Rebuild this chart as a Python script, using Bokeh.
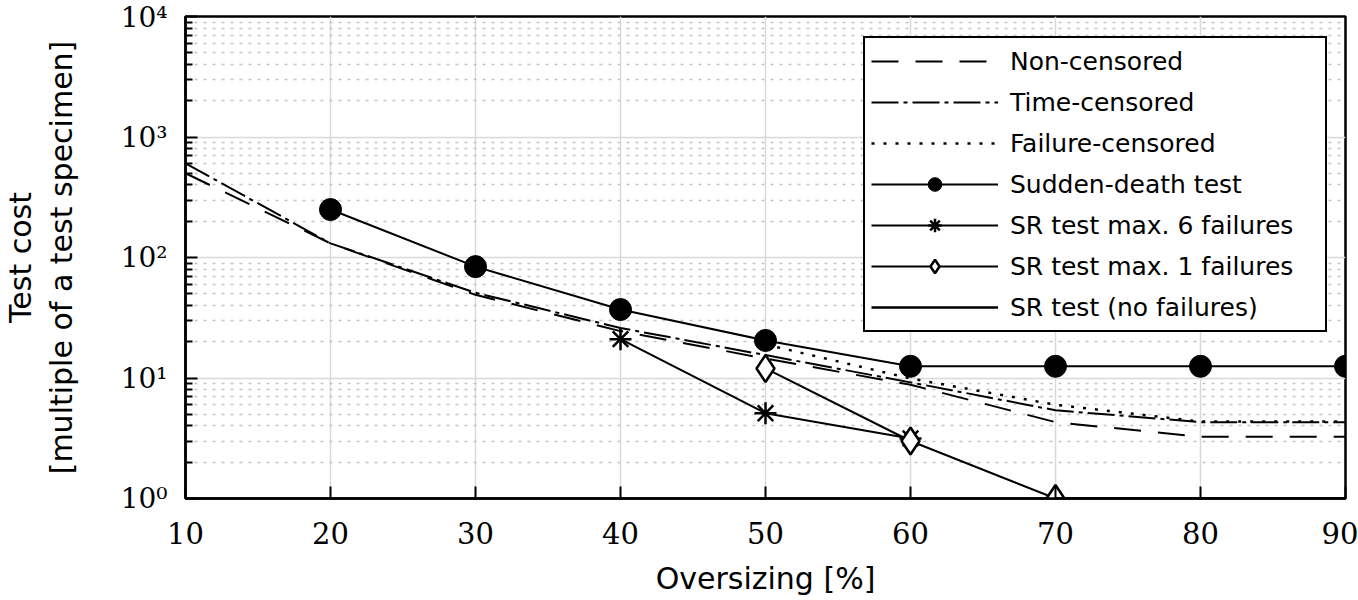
from bokeh.plotting import figure
from bokeh.models import Range1d, FixedTicker, Legend, LegendItem
from bokeh.embed import file_html
from bokeh.resources import INLINE

# ---- data ----
oversizing = [10, 20, 30, 40, 50, 60, 70, 80, 90]
non_censored = [500, 131, 49, 24.5, 14.5, 8.8, 4.3, 3.25, 3.25]
time_censored = [605, 131, 51, 26, 15.5, 9.2, 5.4, 4.3, 4.3]
failure_x = [50, 60, 70, 80, 90]
failure_censored = [19, 9.9, 6.0, 4.35, 4.35]
sudden_x = [20, 30, 40, 50, 60, 70, 80, 90]
sudden_death = [250, 84, 37, 20.5, 12.5, 12.5, 12.5, 12.5]
sr6_x = [40, 50, 60]
sr6 = [21, 5.1, 3.15]
sr1_x = [50, 60, 70]
sr1 = [12, 3.0, 1.0]
sr0_x = [70, 80, 90]
sr0 = [1.0, 1.0, 1.0]

x_ticks = [10, 20, 30, 40, 50, 60, 70, 80, 90]
y_ticks = [1, 10, 100, 1000, 10000]
y_tick_labels = ["10⁰", "10¹", "10²", "10³", "10⁴"]
y_minor = [2, 3, 4, 5, 6, 7, 8, 9,
           20, 30, 40, 50, 60, 70, 80, 90,
           200, 300, 400, 500, 600, 700, 800, 900,
           2000, 3000, 4000, 5000, 6000, 7000, 8000, 9000]

SANS = "DejaVu Sans"
SERIF = "DejaVu Serif"

p = figure(width=1358, height=600, x_range=Range1d(10, 90), y_range=Range1d(1, 10000),
           y_axis_type="log", output_backend="svg", toolbar_location=None,
           min_border_left=185, min_border_right=13, min_border_top=16, min_border_bottom=102)

p.background_fill_color = "white"
p.outline_line_color = "black"
p.outline_line_width = 2.5
p.outline_line_alpha = 1

# axes
p.xaxis.ticker = FixedTicker(ticks=x_ticks)
p.yaxis.ticker = FixedTicker(ticks=y_ticks, minor_ticks=y_minor)
p.yaxis.major_label_overrides = {t: l for t, l in zip(y_ticks, y_tick_labels)}

for ax in (p.xaxis, p.yaxis):
    ax.axis_line_color = "black"
    ax.axis_line_width = 2.5
    ax.major_tick_in = 12
    ax.major_tick_out = 0
    ax.major_tick_line_width = 2
    ax.major_tick_line_color = "black"
    ax.major_label_text_font = SERIF
    ax.major_label_text_color = "black"
    ax.axis_label_text_font = SANS
    ax.axis_label_text_font_size = "30px"
    ax.axis_label_text_font_style = "normal"
    ax.axis_label_text_color = "black"

p.xaxis.major_label_text_font_size = "29px"
p.yaxis.major_label_text_font_size = "28px"
p.xaxis.minor_tick_line_color = None
p.yaxis.minor_tick_in = 7
p.yaxis.minor_tick_out = 0
p.yaxis.minor_tick_line_width = 2
p.yaxis.minor_tick_line_color = "black"

p.xaxis.axis_label = "Oversizing [%]"
p.yaxis.axis_label = "Test cost\n[multiple of a test specimen]"
p.yaxis.axis_label_text_line_height = 1.15
p.xaxis.major_label_standoff = 23
p.xaxis.axis_label_standoff = 14
p.yaxis.major_label_standoff = 18
p.yaxis.axis_label_standoff = 39

# grids
p.xgrid.grid_line_color = "#d9d9d9"
p.xgrid.grid_line_width = 1.5
p.ygrid.grid_line_color = "#d9d9d9"
p.ygrid.grid_line_width = 1.5
p.ygrid.minor_grid_line_color = "#c4c4c4"
p.ygrid.minor_grid_line_width = 1.5
p.ygrid.minor_grid_line_dash = "3 6"

# series
r_nc = p.line(oversizing, non_censored, line_color="black", line_width=2, line_dash="27 17")
r_tc = p.line(oversizing, time_censored, line_color="black", line_width=2, line_dash="27 5 4 5")
r_fc = p.line(failure_x, failure_censored, line_color="black", line_width=2.5, line_dash="3 9")

r_sd_l = p.line(sudden_x, sudden_death, line_color="black", line_width=2)
r_sd_m = p.scatter(sudden_x, sudden_death, marker="circle", size=22, fill_color="black",
                   line_color="black")

r_s6_l = p.line(sr6_x, sr6, line_color="black", line_width=2)
r_s6_m = p.scatter(sr6_x, sr6, marker="asterisk", size=22, line_color="black", line_width=2.5)

r_s1_l = p.line(sr1_x, sr1, line_color="black", line_width=2)
r_s1_m = p.scatter(sr1_x, sr1, marker="diamond", size=27, fill_color="white",
                   line_color="black", line_width=2.5)

r_s0 = p.line(sr0_x, sr0, line_color="black", line_width=2.5)

legend = Legend(items=[
    LegendItem(label="Non-censored", renderers=[r_nc]),
    LegendItem(label="Time-censored", renderers=[r_tc]),
    LegendItem(label="Failure-censored", renderers=[r_fc]),
    LegendItem(label="Sudden-death test", renderers=[r_sd_l, r_sd_m]),
    LegendItem(label="SR test max. 6 failures", renderers=[r_s6_l, r_s6_m]),
    LegendItem(label="SR test max. 1 failures", renderers=[r_s1_l, r_s1_m]),
    LegendItem(label="SR test (no failures)", renderers=[r_s0]),
], location=(678, 166))
legend.border_line_color = "black"
legend.border_line_width = 2
legend.border_line_alpha = 1
legend.background_fill_color = "white"
legend.background_fill_alpha = 1
legend.label_text_font = SANS
legend.label_text_font_size = "25px"
legend.label_text_color = "black"
legend.glyph_width = 127
legend.glyph_height = 34
legend.label_height = 34
legend.label_width = 309
legend.label_standoff = 12
legend.padding = 6
legend.spacing = 7
legend.margin = 0
p.add_layout(legend)

open("out.html", "w").write(file_html(p, INLINE))
